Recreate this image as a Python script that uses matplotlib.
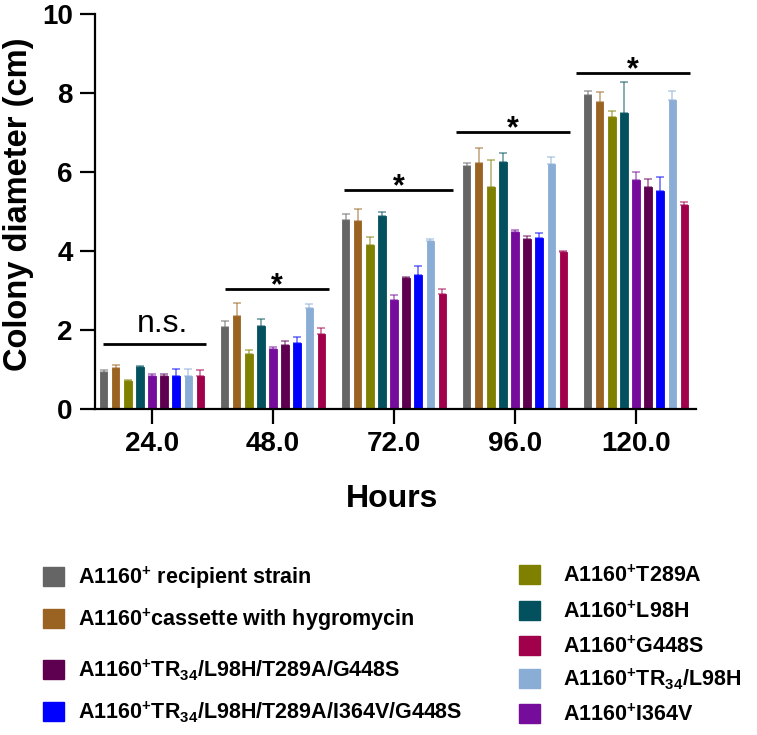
import numpy as np
import matplotlib.pyplot as plt
from matplotlib.patches import Rectangle

plt.rcParams['font.family'] = ['Liberation Sans', 'DejaVu Sans']
plt.rcParams['mathtext.fontset'] = 'custom'
plt.rcParams['mathtext.rm'] = 'Liberation Sans:bold'
plt.rcParams['mathtext.it'] = 'Liberation Sans:bold'
plt.rcParams['mathtext.bf'] = 'Liberation Sans:bold'

# x categories
hours = ['24.0', '48.0', '72.0', '96.0', '120.0']

# strains in bar order (left to right inside each group)
strains = [
    'A1160$^{+}$ recipient strain',
    'A1160$^{+}$cassette with hygromycin',
    'A1160$^{+}$T289A',
    'A1160$^{+}$L98H',
    'A1160$^{+}$I364V',
    'A1160$^{+}$TR$_{34}$/L98H/T289A/G448S',
    'A1160$^{+}$TR$_{34}$/L98H/T289A/I364V/G448S',
    'A1160$^{+}$TR$_{34}$/L98H',
    'A1160$^{+}$G448S',
]
colors = ['#656565', '#9A6322', '#808000', '#03505E', '#760C9C',
          '#5E004F', '#0000FF', '#8AADD6', '#A1004B']

# mean colony diameter (cm), one list per strain, over the 5 time points
recipient = [0.94, 2.08, 4.78, 6.15, 7.95]
cassette = [1.04, 2.35, 4.75, 6.22, 7.78]
t289a = [0.70, 1.38, 4.16, 5.63, 7.40]
l98h = [1.06, 2.11, 4.89, 6.25, 7.50]
i364v = [0.84, 1.53, 2.77, 4.48, 5.80]
tr34_quad = [0.83, 1.62, 3.31, 4.30, 5.63]
tr34_quint = [0.84, 1.66, 3.40, 4.34, 5.52]
tr34_l98h = [0.84, 2.56, 4.26, 6.20, 7.82]
g448s = [0.83, 1.90, 2.91, 3.98, 5.16]

# upper error (SD)
recipient_err = [0.06, 0.15, 0.15, 0.08, 0.10]
cassette_err = [0.08, 0.33, 0.31, 0.40, 0.24]
t289a_err = [0.04, 0.11, 0.19, 0.67, 0.15]
l98h_err = [0.04, 0.17, 0.11, 0.22, 0.79]
i364v_err = [0.05, 0.05, 0.12, 0.05, 0.19]
tr34_quad_err = [0.05, 0.11, 0.04, 0.08, 0.19]
tr34_quint_err = [0.17, 0.17, 0.23, 0.12, 0.35]
tr34_l98h_err = [0.17, 0.09, 0.05, 0.19, 0.23]
g448s_err = [0.17, 0.14, 0.12, 0.02, 0.08]

means = [recipient, cassette, t289a, l98h, i364v, tr34_quad, tr34_quint, tr34_l98h, g448s]
errs = [recipient_err, cassette_err, t289a_err, l98h_err, i364v_err,
        tr34_quad_err, tr34_quint_err, tr34_l98h_err, g448s_err]

# significance brackets
sig_labels = ['n.s.', '*', '*', '*', '*']
sig_y = [1.65, 3.04, 5.54, 7.01, 8.51]
sig_left = [-0.405, -0.397, -0.413, -0.488, -0.496]
sig_right = [0.446, 0.463, 0.488, 0.455, 0.446]

W, H = 757, 735
fig = plt.figure(figsize=(W / 100, H / 100), dpi=100)
ax = fig.add_axes([95 / W, 1 - 409 / H, 601 / W, 395 / H])

x = np.arange(len(hours))
pitch = 0.1
width = 0.062
for k in range(len(strains)):
    pos = x + (k - 4) * pitch
    ax.bar(pos, means[k], width=width, color=colors[k], edgecolor=colors[k],
           linewidth=0.6, zorder=2)
    ax.errorbar(pos, means[k], yerr=[np.zeros(len(hours)), errs[k]], fmt='none',
                ecolor=colors[k], alpha=0.55, elinewidth=1.2, capsize=2.6,
                capthick=1.2, zorder=1)

for i in range(len(hours)):
    ax.plot([x[i] + sig_left[i], x[i] + sig_right[i]], [sig_y[i], sig_y[i]],
            color='black', lw=2, solid_capstyle='butt', clip_on=False)
    cx = x[i] + (sig_left[i] + sig_right[i]) / 2
    if sig_labels[i] == '*':
        ax.text(cx, sig_y[i] - 0.14, '*', ha='center', va='baseline',
                fontsize=22, fontweight='bold')
    else:
        ax.text(cx + 0.07, sig_y[i] + 0.3, sig_labels[i], ha='center',
                va='baseline', fontsize=23)

ax.set_xlim(-0.471, 4.496)
ax.set_ylim(0, 10)
ax.set_xticks(x)
ax.set_xticklabels(hours)
ax.set_yticks([0, 2, 4, 6, 8, 10])
for s in ['top', 'right']:
    ax.spines[s].set_visible(False)
for s in ['left', 'bottom']:
    ax.spines[s].set_linewidth(1.6)
ax.tick_params(axis='both', length=11, width=1.6, labelsize=20, pad=5)
for lab in ax.get_xticklabels() + ax.get_yticklabels():
    lab.set_fontweight('bold')

ax.set_ylabel('Colony diameter (cm)', fontsize=23.5, fontweight='bold', va='center')
ax.yaxis.set_label_coords(-0.128, 0.519)
ax.set_xlabel('Hours', fontsize=23, fontweight='bold', va='center')
ax.xaxis.set_label_coords(0.494, -0.228)

# legend, two hand-placed columns
left_col = [0, 1, 5, 6]
right_col = [2, 3, 8, 7, 4]
left_rows = [576, 618, 669, 711]
right_rows = [574, 610, 645, 678, 713]
for idx, yc in zip(left_col, left_rows):
    fig.add_artist(Rectangle((43 / W, 1 - (yc + 9.5) / H), 21 / W, 19 / H,
                             transform=fig.transFigure, color=colors[idx]))
    fig.text(78 / W, 1 - (yc + 8) / H, strains[idx], fontsize=15.5,
             fontweight='bold', va='baseline')
for idx, yc in zip(right_col, right_rows):
    fig.add_artist(Rectangle((519 / W, 1 - (yc + 9.5) / H), 21 / W, 19 / H,
                             transform=fig.transFigure, color=colors[idx]))
    fig.text(563 / W, 1 - (yc + 8) / H, strains[idx], fontsize=15.5,
             fontweight='bold', va='baseline')

fig.savefig('out.png', dpi=100)
